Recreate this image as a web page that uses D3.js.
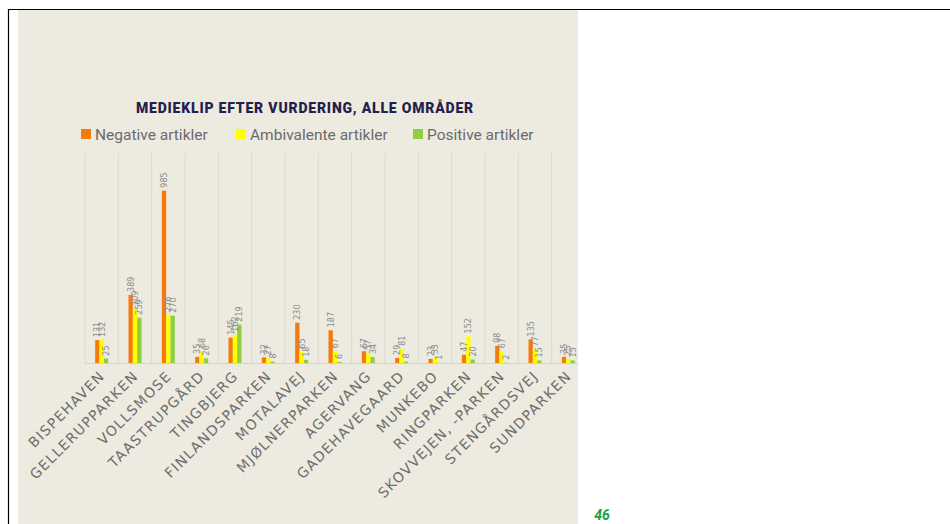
<!DOCTYPE html>
<html>
<head>
<meta charset="utf-8">
<script src="https://cdn.jsdelivr.net/npm/d3@7"></script>
<style>
  body { margin: 0; background: #fff; }
  svg { display: block; }
</style>
</head>
<body>
<svg width="950" height="524"></svg>
<script>
// omraader og antal medieklip
var omraader = ["BISPEHAVEN", "GELLERUPPARKEN", "VOLLSMOSE", "TAASTRUPGÅRD", "TINGBJERG",
  "FINLANDSPARKEN", "MOTALAVEJ", "MJØLNERPARKEN", "AGERVANG", "GADEHAVEGAARD",
  "MUNKEBO", "RINGPARKEN", "SKOVVEJEN, -PARKEN", "STENGÅRDSVEJ", "SUNDPARKEN"];
var negative = [131, 389, 985, 35, 145, 32, 230, 187, 67, 29, 23, 47, 98, 135, 35];
var ambivalente = [132, 309, 276, 68, 162, 27, 65, 67, 57, 81, 33, 152, 67, 77, 25];
var positive = [25, 259, 270, 26, 219, 8, 18, 6, 34, 8, 1, 20, 2, 15, 15];
var serier = ["Negative artikler", "Ambivalente artikler", "Positive artikler"];
var farver = ["#f57a0c", "#ffff00", "#8fcd44"];

var svg = d3.select("svg");

// side-ramme
svg.append("rect").attr("x", 18).attr("y", 10).attr("width", 560).attr("height", 514).attr("fill", "#edeae0");
svg.append("line").attr("x1", 8.5).attr("x2", 950).attr("y1", 9.5).attr("y2", 9.5).attr("stroke", "#000").attr("stroke-width", 1.2);
svg.append("line").attr("x1", 8.5).attr("x2", 8.5).attr("y1", 9).attr("y2", 524).attr("stroke", "#000").attr("stroke-width", 1.2);

svg.append("text").attr("x", 602).attr("y", 520).attr("text-anchor", "middle")
  .attr("font-family", "Roboto").attr("font-weight", "bold").attr("font-style", "italic")
  .attr("font-size", 14).attr("fill", "#17a34a").text("46");

var clip = svg.append("clipPath").attr("id", "clip")
  .append("rect").attr("x", 18).attr("y", 10).attr("width", 560).attr("height", 514);

var g = svg.append("g").attr("clip-path", "url(#clip)");

var x0 = 85, x1 = 585, yTop = 153, yBase = 363;

var x = d3.scaleBand().domain(omraader).range([x0, x1]).padding(0);
var x1s = d3.scaleBand().domain(d3.range(3)).range([x.bandwidth() / 2 - 6.5, x.bandwidth() / 2 + 6.5]);
var y = d3.scaleLinear().domain([0, 1200]).range([yBase, yTop]);

// lodrette gitterlinjer
g.append("g").selectAll("line")
  .data(d3.range(omraader.length + 1))
  .enter().append("line")
  .attr("x1", function(i) { return x0 + i * x.bandwidth(); })
  .attr("x2", function(i) { return x0 + i * x.bandwidth(); })
  .attr("y1", yTop).attr("y2", yBase)
  .attr("stroke", "#dcd9d0").attr("stroke-width", 1);

g.append("line").attr("x1", x0).attr("x2", x1).attr("y1", yBase + 0.5).attr("y2", yBase + 0.5)
  .attr("stroke", "#d6d3ca");

var rows = omraader.map(function(o, i) {
  return { navn: o, v: [negative[i], ambivalente[i], positive[i]] };
});

var grp = g.append("g").selectAll("g")
  .data(rows)
  .enter().append("g")
  .attr("transform", function(d) { return "translate(" + x(d.navn) + ",0)"; });

grp.selectAll("rect")
  .data(function(d) { return d.v.map(function(v, k) { return { k: k, v: v }; }); })
  .enter().append("rect")
  .attr("x", function(d) { return x1s(d.k); })
  .attr("width", x1s.bandwidth())
  .attr("y", function(d) { return y(d.v); })
  .attr("height", function(d) { return yBase - y(d.v); })
  .attr("fill", function(d) { return farver[d.k]; });

grp.selectAll("text")
  .data(function(d) { return d.v.map(function(v, k) { return { k: k, v: v }; }); })
  .enter().append("text")
  .attr("transform", function(d) {
    return "translate(" + (x1s(d.k) + x1s.bandwidth() / 2 + 3) + "," + (y(d.v) - 3) + ") rotate(-90)";
  })
  .attr("font-family", "DejaVu Sans").attr("font-size", 8).attr("fill", "#8a8a8a")
  .text(function(d) { return d.v; });

// x-akse etiketter
g.append("g").selectAll("text")
  .data(omraader)
  .enter().append("text")
  .attr("transform", function(d) {
    return "translate(" + (x(d) + x.bandwidth() / 2 + 4) + "," + (yBase + 14) + ") rotate(-45)";
  })
  .attr("text-anchor", "end")
  .attr("font-family", "DejaVu Sans").attr("font-size", 14).attr("letter-spacing", 1.3)
  .attr("fill", "#6e6e6e")
  .text(function(d) { return d; });

// titel
svg.append("text").attr("x", 305).attr("y", 113).attr("text-anchor", "middle")
  .attr("font-family", "Roboto").attr("font-weight", "900").attr("font-size", 14)
  .attr("letter-spacing", 0.8).attr("fill", "#241f4e")
  .text("MEDIEKLIP EFTER VURDERING, ALLE OMRÅDER");

// legende
var legX = [81, 236, 413];
var leg = svg.append("g").selectAll("g")
  .data(serier)
  .enter().append("g")
  .attr("transform", function(d, i) { return "translate(" + legX[i] + ",129)"; });
leg.append("rect").attr("width", 10).attr("height", 10)
  .attr("fill", function(d, i) { return farver[i]; });
leg.append("text").attr("x", 14).attr("y", 10.5)
  .attr("font-family", "Roboto").attr("font-size", 15.5).attr("fill", "#6b6b6b")
  .text(function(d) { return d; });
</script>
</body>
</html>
